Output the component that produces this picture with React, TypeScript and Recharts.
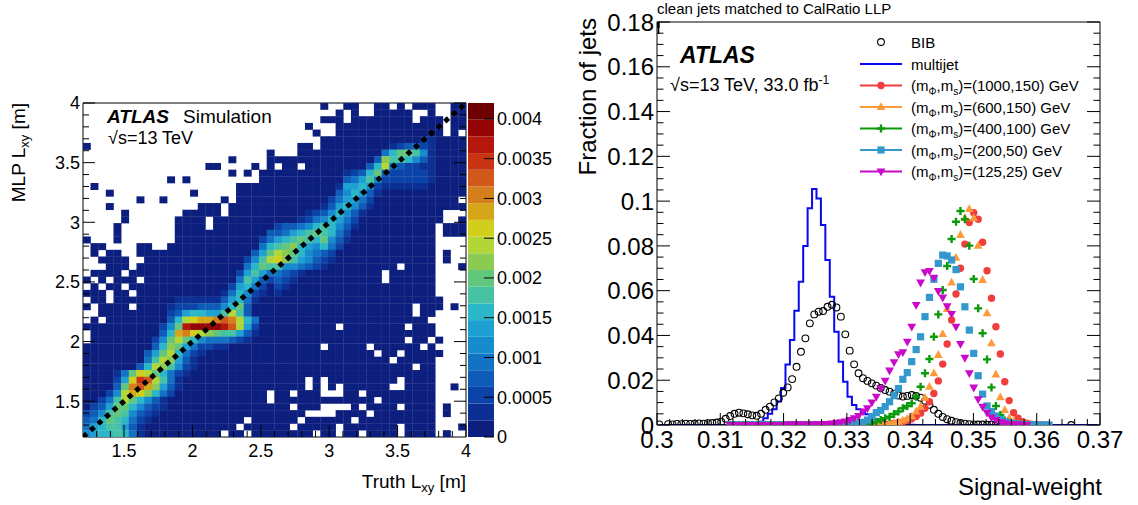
import React from "react";
import {
  ScatterChart,
  Scatter,
  ComposedChart,
  Line,
  XAxis,
  YAxis,
  ReferenceArea,
} from "recharts";

const font = "'Liberation Sans', Arial, Helvetica, sans-serif";

// ---------- left panel: MLP Lxy vs truth Lxy, 50 x 50 bins from 1.2 to 4 m ----------
const lxyMin = 1.2;
const lxyMax = 4;
const lxyBins = 50;
const lxyMajor = [1.5, 2, 2.5, 3, 3.5, 4];
const lxyTicks = [
  1.3, 1.4, 1.5, 1.6, 1.7, 1.8, 1.9, 2, 2.1, 2.2, 2.3, 2.4, 2.5, 2.6, 2.7, 2.8,
  2.9, 3, 3.1, 3.2, 3.3, 3.4, 3.5, 3.6, 3.7, 3.8, 3.9, 4,
];
const zMax = 0.0042;
const zTicks = [0, 0.0005, 0.001, 0.0015, 0.002, 0.0025, 0.003, 0.0035, 0.004];
const palette = [
  "#0d1f7e", "#0c2f93", "#0b43a8", "#0e5cb8", "#1273c4", "#168bce", "#1ea0d2",
  "#2cb7c9", "#47c3a4", "#63c67d", "#8bcb52", "#b2d636", "#d2cf1c", "#d6a61a",
  "#d57f1c", "#d2581a", "#c93514", "#b5170d", "#950505", "#6e0000",
];
// rows from MLP = 4 m (top) down to 1.2 m; '.' = empty bin, 0-9 / a-j = colour band
const lxyRows = [
  "..... ..... ..... ..... ..... ..... .0..0 0..00 .0.00 0..00",
  "..... ..... ..... ..... ..... ..... ...0. 0..00 000.. 0..00",
  "..... ..... ..... ..... ..... ..... .000. 00000 000.0 00.00",
  "..... ..... ..... ..... ..... ....0 ...00 00000 00000 00.00",
  "..... ..... ..... ..... ..... ..... 0..00 00000 00000 00.0.",
  "..... ..... ..... ..... ..... ..... .0000 00000 00001 10000",
  "0.... ..... ..... ..... ..... ...00 .0000 00000 12332 10000",
  "..... ..... ..... ..... ....0 ...00 00000 00004 79985 10000",
  "..... ..... ..... ....0 ....0 00000 00000 0003a 88753 10000",
  "..... ..... ..... .00.. ..0.0 .00.0 00000 0037b 43221 10000",
  "..... ..... ..... ....0 .0.00 00000 00001 23793 22222 10000",
  "..... ..... .0.0. ..... ...00 00000 00003 46852 22222 10000",
  ".0... ..... ..... ..... 00000 00000 00016 67521 11111 00000",
  "...0. ..... ....0 ..... 00000 00000 00035 76310 00000 00000",
  "..... ..0.. 0.... ...0. 00000 00000 00246 64200 00000 0000.",
  "...0. ..... ..... 000.0 00000 00000 01367 53100 00000 00000",
  "..... 0.... ...00 000.0 00000 00001 23575 31000 00000 00...",
  "..... 0.... ..000 0.000 00000 00012 45764 20000 00000 00..0",
  "....0 ..... ..000 0.000 00000 23345 78753 10000 00000 0.000",
  "....0 ..... ..000 00000 00003 34678 98742 00000 00000 0.000",
  "0...0 ..... ..000 00000 00024 67898 79531 00000 00000 0....",
  ".00.. ..00. .0000 00000 00047 89a76 57420 00000 00000 0....",
  ".0.00 ..000 00000 00000 00369 ba975 43200 00000 00000 0.0..",
  "..000 0..00 00000 00000 0258b ca865 32100 00000 00000 0.0..",
  "...00 0.000 00000 00000 04798 85543 21000 00000 0.000 0...0",
  ".0000 .0000 00000 00000 26864 43210 00000 0000. 00000 0....",
  "0.0.0 00.00 00000 00000 48632 32100 00000 0000. 00000 0....",
  ".0.00 .0000 00000 00002 67420 21000 00000 00000 00000 0....",
  "000.0 0.000 00000 00014 75210 10000 00000 00000 00000 0....",
  ".00.0 00000 00111 11136 74100 00000 00000 00000 00000 00...",
  "0.000 0.000 01222 33357 93000 00000 00000 00000 000.0 00.0.",
  "..000 00000 02367 7668b 83000 00000 00000 00000 000.0 0....",
  ".0.00 00000 037bc ddefe b7400 00000 00000 00000 00000 .....",
  "00000 00000 259hi iiihf b6200 00000 000.0 00000 00.00 0....",
  ".0000 00000 37dec ba988 63100 00000 00000 00000 00000 0....",
  ".0000 00002 59b97 54443 21000 00000 00000 00000 00.00 .0...",
  "00000 00003 7a964 22110 00000 00000 0.000 00.00 0000. 0....",
  "00000 00036 9b742 10000 00000 00000 00000 000.0 0.000 00...",
  "00000 00048 ba631 00000 00000 00000 00000 00000 .0000 0....",
  "00000 0037b a8521 00000 00000 00000 00000 00000 000.0 0....",
  "00001 49cb9 74210 00000 00000 00000 00000 00000 00000 0....",
  "00002 6cgfb 84100 00000 00000 0000. 0.000 00000 0.000 0....",
  "00003 9efda 63100 00000 00000 0000. 0.0.0 00000 ..000 0..0.",
  "00025 bdca7 42000 00000 0000. 00.00 0...0 0.000 00000 0....",
  "00248 b9753 10000 00000 0000. 00000 00000 000.0 00000 0....",
  "02369 97532 10000 00000 00000 00.00 0.... 0.000 0.000 0.0..",
  "23589 85321 00000 00000 00000 0000. ...00 00.00 00000 0.0..",
  "34798 74210 00000 00000 0.000 000.0 00000 .0000 00000 0....",
  "46788 63100 00000 00000 .0000 00.00 000.0 00000 0.000 0...0",
  "56778 74100 00000 000.0 0.000 00000 .00.0 0.000 0.000 0.0..",
];
// the dotted y = x guide
const lxyDiagonal = [
  { x: 1.2, y: 1.2 },
  { x: 4, y: 4 },
];

// ---------- right panel: signal-weight, 100 bins of 0.0007 from 0.3 ----------
const swMin = 0.3;
const swMax = 0.37;
const swBinWidth = 0.0007;
const swMajorX = [0.3, 0.31, 0.32, 0.33, 0.34, 0.35, 0.36, 0.37];
const swTicksX = [
  0.3, 0.302, 0.304, 0.306, 0.308, 0.31, 0.312, 0.314, 0.316, 0.318, 0.32,
  0.322, 0.324, 0.326, 0.328, 0.33, 0.332, 0.334, 0.336, 0.338, 0.34, 0.342,
  0.344, 0.346, 0.348, 0.35, 0.352, 0.354, 0.356, 0.358, 0.36, 0.362, 0.364,
  0.366, 0.368, 0.37,
];
const fracMajor = [0, 0.02, 0.04, 0.06, 0.08, 0.1, 0.12, 0.14, 0.16, 0.18];
const fracTicks = [
  0, 0.005, 0.01, 0.015, 0.02, 0.025, 0.03, 0.035, 0.04, 0.045, 0.05, 0.055,
  0.06, 0.065, 0.07, 0.075, 0.08, 0.085, 0.09, 0.095, 0.1, 0.105, 0.11, 0.115,
  0.12, 0.125, 0.13, 0.135, 0.14, 0.145, 0.15, 0.155, 0.16, 0.165, 0.17, 0.175,
  0.18,
];

// BIB, bins 0..93 (null = no marker)
const bibFirst = 0;
const bib = [
  0.0003, null, 0.0004, 0.0003, 0.0005, 0.0004, 0.0006, 0.0005, 0.0006, 0.0007,
  0.0006, 0.0008, 0.0009, 0.0011, 0.0015, 0.0028, 0.004, 0.005, 0.0055, 0.0052,
  0.0048, 0.0043, 0.0041, 0.005, 0.0068, 0.0082, 0.0101, 0.0119, 0.0144, 0.0168,
  0.0205, 0.026, 0.0327, 0.0387, 0.0454, 0.0494, 0.0506, 0.0509, 0.0528, 0.0537,
  0.0525, 0.0484, 0.0405, 0.0332, 0.0271, 0.0231, 0.0209, 0.0197, 0.0186, 0.0176,
  0.0165, 0.0156, 0.0149, 0.014, 0.0132, 0.0127, 0.013, 0.0134, 0.013, 0.0122,
  0.0108, 0.009, 0.0068, 0.005, 0.0036, 0.0026, 0.0019, 0.0013, 0.0009, 0.0006,
  0.0004, 0.0003, 0.0002, 0.0002, 0.0001, 0.0001, 0.0001, 0.0001, 0.0001, 0.0001,
  0.0001, null, null, null, null, null, null, null, null, null, null, null, null, 0,
];

// multijet histogram, non-empty bins 22..57 (zero elsewhere)
const mjFirst = 22;
const multijet = [
  0.0005, 0.0015, 0.003, 0.005, 0.007, 0.0105, 0.0165, 0.027, 0.038, 0.051,
  0.064, 0.08, 0.0968, 0.1054, 0.1012, 0.0893, 0.0737, 0.0573, 0.0417, 0.0283,
  0.0193, 0.0126, 0.0089, 0.007, 0.0058, 0.0048, 0.0036, 0.0026, 0.0018, 0.0012,
  0.0008, 0.0005, 0.0003, 0.0002, 0.0001, 0.0001,
];

// signal samples, starting at bin 16
const sigFirst = 16;
const sig1000 = [
  0, 0, 0, 0, 0, 0, 0, 0, 0, 0, 0, 0, 0, 0, 0, 0, 0, 0, 0, 0, 0, 0, 0, 0, 0, 0, 0, 0, 0, 0,
  0.0001, 0.0001, 0.0002, 0.0002, 0.0003, 0.0004, 0.0005, 0.0007, 0.001, 0.0014,
  0.002, 0.0028, 0.0038, 0.0053, 0.0075, 0.0104, 0.0141, 0.0197, 0.0272, 0.0362,
  0.0469, 0.0585, 0.07, 0.0808, 0.0904, 0.0948, 0.0919, 0.0816, 0.0689, 0.0566,
  0.0439, 0.0317, 0.0193, 0.0109, 0.0055, 0.003, 0.0015, 0.0008, 0.0004, 0.0002,
  0.0001, 0,
];
const sig600 = [
  0, 0, 0, 0, 0, 0, 0, 0, 0, 0, 0, 0, 0, 0, 0, 0, 0, 0, 0, 0, 0, 0, 0, 0, 0, 0, 0, 0, 0, 0,
  0.0001, 0.0001, 0.0002, 0.0003, 0.0004, 0.0005, 0.0007, 0.001, 0.0014, 0.002,
  0.0028, 0.0039, 0.006, 0.0082, 0.0122, 0.0171, 0.0231, 0.0313, 0.0406, 0.0518,
  0.0636, 0.0747, 0.0849, 0.0925, 0.0965, 0.0923, 0.0801, 0.0648, 0.0499, 0.0365,
  0.0226, 0.0124, 0.0067, 0.003, 0.0015, 0.0007, 0.0003, 0.0001, 0,
];
const sig400 = [
  0, 0, 0, 0, 0, 0, 0, 0, 0, 0, 0, 0, 0, 0, 0, 0, 0, 0, 0, 0, 0, 0, 0, 0, 0, 0, 0, 0, 0, 0, 0,
  0.0004, 0.0008, 0.0015, 0.0022, 0.003, 0.0037, 0.0049, 0.006, 0.0075, 0.0085,
  0.0097, 0.0126, 0.0171, 0.0231, 0.0295, 0.0394, 0.0494, 0.0603, 0.071, 0.0831,
  0.0908, 0.0956, 0.0919, 0.0801, 0.0652, 0.0521, 0.041, 0.0293, 0.0168, 0.0085,
  0.0045, 0.002, 0.001, 0.0005, 0.0002, 0.0001, 0,
];
const sig200 = [
  0, 0, 0, 0, 0, 0, 0, 0, 0, 0, 0, 0, 0, 0, 0, 0, 0, 0, 0, 0, 0, 0, 0,
  0.0002, 0.0003, 0.0004, 0.0005, 0.0006, 0.0008, 0.001, 0.0012, 0.0022, 0.0037,
  0.0055, 0.0065, 0.0082, 0.0104, 0.0131, 0.0163, 0.0204, 0.0234, 0.0283, 0.0337,
  0.0394, 0.0484, 0.057, 0.0651, 0.0722, 0.0759, 0.0755, 0.0737, 0.0694, 0.0617,
  0.0528, 0.0424, 0.032, 0.022, 0.0138, 0.0085, 0.006, 0.004, 0.0025, 0.0015,
  0.001, 0.0006, 0.0004, 0.0002, 0.0001, 0.0001, 0, 0, 0, 0,
];
const sig125 = [
  0, 0, 0, 0, 0, 0, 0, 0, 0, 0, 0, 0, 0,
  0.0002, 0.0002, 0.0002, 0.0002, 0.0002, 0.0002, 0.0002, 0.0003, 0.0004, 0.0005,
  0.0007, 0.0009, 0.0012, 0.0016, 0.0022, 0.003, 0.004, 0.006, 0.0075, 0.0101,
  0.0126, 0.0164, 0.0198, 0.0243, 0.028, 0.0316, 0.0325, 0.0372, 0.0439, 0.0536,
  0.0636, 0.0682, 0.0688, 0.0658, 0.0598, 0.0569, 0.053, 0.0496, 0.0439, 0.0362,
  0.03, 0.0231, 0.0167, 0.0115, 0.0082, 0.0055, 0.0034, 0.0022, 0.0013, 0.0008,
  0.0005, 0.0003, 0.0002, 0.0001, 0,
];

const colRed = "#f23d3d";
const colOrange = "#ff9a3c";
const colGreen = "#0a9a0a";
const colBlue = "#3399cc";
const colMagenta = "#c80ac8";
const colMultijet = "#0a0af0";

// ---------- derived tables ----------
const lxyStep = (lxyMax - lxyMin) / lxyBins;
const lxyCells = lxyRows.flatMap((row, r) => {
  const chars = row.replace(/ /g, "").padEnd(lxyBins, "0").slice(0, lxyBins);
  const out: { x: number; y: number; level: number }[] = [];
  chars.split("").forEach((ch, c) => {
    if (ch === ".") return;
    out.push({
      x: lxyMin + (c + 0.5) * lxyStep,
      y: lxyMax - (r + 0.5) * lxyStep,
      level: parseInt(ch, 36),
    });
  });
  return out;
});

const binCenter = (i: number) => swMin + (i + 0.5) * swBinWidth;
const toPoints = (first: number, values: (number | null)[]) =>
  values
    .map((v, k) => (v == null ? null : { x: binCenter(first + k), y: v }))
    .filter(Boolean) as { x: number; y: number }[];

const mjData = Array.from({ length: 100 }, (_, i) => ({
  x: binCenter(i),
  y: i >= mjFirst && i < mjFirst + multijet.length ? multijet[i - mjFirst] : 0,
}));

// ---------- ROOT-style inward ticks ----------
type Side = "bottom" | "top" | "left" | "right";
const isIn = (list: number[], v: number) => list.some((m) => Math.abs(m - v) < 1e-9);

function rootTick(side: Side, majors: number[], major: number, minor: number, fontSize = 0, gap = 0) {
  return (props: any) => {
    const { x, y, payload } = props;
    const v = payload.value;
    const big = isIn(majors, v);
    const len = big ? major : minor;
    const showLabel = fontSize > 0 && big;
    let line = null;
    let label = null;
    if (side === "bottom") {
      line = <line x1={x} y1={y} x2={x} y2={y - len} stroke="#000" />;
      if (showLabel)
        label = (
          <text x={x} y={y + gap} textAnchor="middle" fontSize={fontSize} fontFamily={font} fill="#000">
            {String(v)}
          </text>
        );
    } else if (side === "top") {
      line = <line x1={x} y1={y} x2={x} y2={y + len} stroke="#000" />;
    } else if (side === "left") {
      line = <line x1={x} y1={y} x2={x + len} y2={y} stroke="#000" />;
      if (showLabel)
        label = (
          <text x={x - gap} y={y} dy="0.36em" textAnchor="end" fontSize={fontSize} fontFamily={font} fill="#000">
            {String(v)}
          </text>
        );
    } else {
      line = <line x1={x} y1={y} x2={x - len} y2={y} stroke="#000" />;
      if (showLabel)
        label = (
          <text x={x + gap} y={y} dy="0.36em" textAnchor="start" fontSize={fontSize} fontFamily={font} fill="#000">
            {String(v)}
          </text>
        );
    }
    return (
      <g>
        {line}
        {label}
      </g>
    );
  };
}

// ---------- markers ----------
const cellW = 383 / lxyBins + 0.3;
const cellH = 334 / lxyBins + 0.3;
const HeatCell = (p: any) => {
  if (p.cx == null || p.cy == null) return <g />;
  return (
    <rect
      x={p.cx - cellW / 2}
      y={p.cy - cellH / 2}
      width={cellW}
      height={cellH}
      fill={palette[p.payload.level]}
    />
  );
};
const NoMarker = () => <g />;

const OpenCircle = (p: any) =>
  p.cx == null ? <g /> : <circle cx={p.cx} cy={p.cy} r={3.4} fill="none" stroke="#000" strokeWidth={1.1} />;
const FullCircle = (color: string) => (p: any) =>
  p.cx == null ? <g /> : <circle cx={p.cx} cy={p.cy} r={3.7} fill={color} />;
const TriUp = (color: string) => (p: any) =>
  p.cx == null ? (
    <g />
  ) : (
    <polygon points={`${p.cx},${p.cy - 4.8} ${p.cx + 4.4},${p.cy + 3} ${p.cx - 4.4},${p.cy + 3}`} fill={color} />
  );
const TriDown = (color: string) => (p: any) =>
  p.cx == null ? (
    <g />
  ) : (
    <polygon points={`${p.cx},${p.cy + 4.8} ${p.cx + 4.4},${p.cy - 3} ${p.cx - 4.4},${p.cy - 3}`} fill={color} />
  );
const Square = (color: string) => (p: any) =>
  p.cx == null ? <g /> : <rect x={p.cx - 3.6} y={p.cy - 3.6} width={7.2} height={7.2} fill={color} />;
const Cross = (color: string) => (p: any) =>
  p.cx == null ? (
    <g />
  ) : (
    <path
      d={`M${p.cx - 4},${p.cy}H${p.cx + 4}M${p.cx},${p.cy - 4}V${p.cy + 4}`}
      stroke={color}
      strokeWidth={2.4}
    />
  );

const legendRows = [
  { y: 42, label: "BIB", kind: "bib" },
  { y: 64, label: "multijet", kind: "mj" },
  { y: 85.5, mphi: "1000", ms: "150", color: colRed, marker: FullCircle(colRed) },
  { y: 107, mphi: "600", ms: "150", color: colOrange, marker: TriUp(colOrange) },
  { y: 128.5, mphi: "400", ms: "100", color: colGreen, marker: Cross(colGreen) },
  { y: 150, mphi: "200", ms: "50", color: colBlue, marker: Square(colBlue) },
  { y: 171.5, mphi: "125", ms: "25", color: colMagenta, marker: TriDown(colMagenta) },
];

export default function App() {
  return (
    <div style={{ position: "absolute", left: 0, top: 0, width: 1138, height: 505, background: "#fff" }}>
      {/* heat map */}
      <div style={{ position: "absolute", left: 0, top: 0 }}>
        <ScatterChart width={520} height={505} margin={{ top: 102, right: 53, bottom: 67, left: 82 }}>
          <XAxis
            dataKey="x"
            type="number"
            domain={[lxyMin, lxyMax]}
            allowDataOverflow
            ticks={lxyTicks}
            interval={0}
            height={1}
            tickSize={0}
            tickMargin={0}
            tickLine={false}
            axisLine={{ stroke: "#000" }}
            tick={rootTick("bottom", lxyMajor, 12, 6, 18, 20)}
          />
          <XAxis
            xAxisId="top"
            orientation="top"
            type="number"
            domain={[lxyMin, lxyMax]}
            allowDataOverflow
            ticks={lxyTicks}
            interval={0}
            height={1}
            tickSize={0}
            tickMargin={0}
            tickLine={false}
            axisLine={{ stroke: "#000" }}
            tick={rootTick("top", lxyMajor, 12, 6)}
          />
          <YAxis
            dataKey="y"
            type="number"
            domain={[lxyMin, lxyMax]}
            allowDataOverflow
            ticks={lxyTicks}
            interval={0}
            width={1}
            tickSize={0}
            tickMargin={0}
            tickLine={false}
            axisLine={{ stroke: "#000" }}
            tick={rootTick("left", lxyMajor, 12, 6, 18, 3)}
          />
          <YAxis
            yAxisId="right"
            orientation="right"
            type="number"
            domain={[lxyMin, lxyMax]}
            allowDataOverflow
            ticks={lxyTicks}
            interval={0}
            width={1}
            tickSize={0}
            tickMargin={0}
            tickLine={false}
            axisLine={{ stroke: "#000" }}
            tick={rootTick("right", lxyMajor, 12, 6)}
          />
          <Scatter data={lxyCells} shape={HeatCell} isAnimationActive={false} />
          <Scatter
            data={lxyDiagonal}
            shape={NoMarker}
            line={{ stroke: "#000", strokeWidth: 5, strokeDasharray: "5 5" }}
            isAnimationActive={false}
          />
        </ScatterChart>
      </div>

      {/* colour scale */}
      <div style={{ position: "absolute", left: 0, top: 0 }}>
        <ComposedChart
          width={600}
          height={505}
          data={[{ x: 0 }, { x: 1 }]}
          margin={{ top: 103, right: 105, bottom: 68, left: 468 }}
        >
          <XAxis dataKey="x" type="number" domain={[0, 1]} hide />
          <YAxis
            orientation="right"
            type="number"
            domain={[0, zMax]}
            allowDataOverflow
            ticks={zTicks}
            interval={0}
            width={1}
            tickSize={0}
            tickMargin={0}
            tickLine={false}
            axisLine={false}
            tick={rootTick("right", zTicks, 10, 10, 18, 3)}
          />
          {palette.map((c, k) => (
            <ReferenceArea
              key={k}
              y1={(k * zMax) / palette.length}
              y2={((k + 1) * zMax) / palette.length}
              fill={c}
              fillOpacity={1}
              stroke="none"
            />
          ))}
        </ComposedChart>
      </div>

      {/* signal-weight distributions */}
      <div style={{ position: "absolute", left: 0, top: 0 }}>
        <ComposedChart width={1138} height={505} data={mjData} margin={{ top: 21, right: 37, bottom: 79, left: 656 }}>
          <XAxis
            dataKey="x"
            type="number"
            domain={[swMin, swMax]}
            allowDataOverflow
            ticks={swTicksX}
            interval={0}
            height={1}
            tickSize={0}
            tickMargin={0}
            tickLine={false}
            axisLine={{ stroke: "#000" }}
            tick={rootTick("bottom", swMajorX, 12, 6, 24, 23)}
          />
          <XAxis
            xAxisId="top"
            orientation="top"
            type="number"
            domain={[swMin, swMax]}
            allowDataOverflow
            ticks={swTicksX}
            interval={0}
            height={1}
            tickSize={0}
            tickMargin={0}
            tickLine={false}
            axisLine={{ stroke: "#000" }}
            tick={rootTick("top", swMajorX, 12, 6)}
          />
          <YAxis
            dataKey="y"
            type="number"
            domain={[0, 0.18]}
            allowDataOverflow
            ticks={fracTicks}
            interval={0}
            width={1}
            tickSize={0}
            tickMargin={0}
            tickLine={false}
            axisLine={{ stroke: "#000" }}
            tick={rootTick("left", fracMajor, 13, 6.5, 24, 3)}
          />
          <YAxis
            yAxisId="right"
            orientation="right"
            type="number"
            domain={[0, 0.18]}
            allowDataOverflow
            ticks={fracTicks}
            interval={0}
            width={1}
            tickSize={0}
            tickMargin={0}
            tickLine={false}
            axisLine={{ stroke: "#000" }}
            tick={rootTick("right", fracMajor, 13, 6.5)}
          />
          <Scatter data={toPoints(bibFirst, bib)} shape={OpenCircle} isAnimationActive={false} />
          <Line
            dataKey="y"
            type="step"
            stroke={colMultijet}
            strokeWidth={2}
            dot={false}
            isAnimationActive={false}
          />
          <Scatter data={toPoints(sigFirst, sig1000)} shape={FullCircle(colRed)} isAnimationActive={false} />
          <Scatter data={toPoints(sigFirst, sig600)} shape={TriUp(colOrange)} isAnimationActive={false} />
          <Scatter data={toPoints(sigFirst, sig400)} shape={Cross(colGreen)} isAnimationActive={false} />
          <Scatter data={toPoints(sigFirst, sig200)} shape={Square(colBlue)} isAnimationActive={false} />
          <Scatter data={toPoints(sigFirst, sig125)} shape={TriDown(colMagenta)} isAnimationActive={false} />
        </ComposedChart>
      </div>

      {/* labels and legend */}
      <svg
        width={1138}
        height={505}
        style={{ position: "absolute", left: 0, top: 0, pointerEvents: "none" }}
        fontFamily={font}
      >
        {/* left panel */}
        <text x={107} y={123} fontSize={19} fontWeight="bold" fontStyle="italic">
          ATLAS
        </text>
        <text x={183} y={123} fontSize={19}>
          Simulation
        </text>
        <text x={108} y={144} fontSize={18}>
          √s=13 TeV
        </text>
        <text x={466} y={488} fontSize={19} textAnchor="end">
          Truth L<tspan dy={4} fontSize={13}>xy</tspan>
          <tspan dy={-4}> [m]</tspan>
        </text>
        <text transform="rotate(-90)" x={-103} y={25} fontSize={19} textAnchor="end">
          MLP L<tspan dy={4} fontSize={13}>xy</tspan>
          <tspan dy={-4}> [m]</tspan>
        </text>

        {/* right panel */}
        <text x={657} y={14} fontSize={15}>
          clean jets matched to CalRatio LLP
        </text>
        <text x={680} y={63} fontSize={23} fontWeight="bold" fontStyle="italic">
          ATLAS
        </text>
        <text x={670} y={91} fontSize={18}>
          √s=13 TeV, 33.0 fb<tspan dy={-7} fontSize={12}>-1</tspan>
        </text>
        <text transform="rotate(-90)" x={-18} y={596} fontSize={24} textAnchor="end">
          Fraction of jets
        </text>
        <text x={1102} y={495} fontSize={24} textAnchor="end">
          Signal-weight
        </text>

        {legendRows.map((row: any, i) => (
          <g key={i}>
            {row.kind === "bib" && <OpenCircle cx={881} cy={row.y} />}
            {row.kind === "mj" && <line x1={860} x2={902} y1={row.y} y2={row.y} stroke={colMultijet} strokeWidth={2} />}
            {row.color && (
              <>
                <line x1={860} x2={902} y1={row.y} y2={row.y} stroke={row.color} strokeWidth={2} />
                {row.marker({ cx: 881, cy: row.y })}
              </>
            )}
            {row.label ? (
              <text x={911} y={row.y + 5.5} fontSize={15}>
                {row.label}
              </text>
            ) : (
              <text x={911} y={row.y + 5.5} fontSize={15}>
                (m<tspan dy={4} fontSize={10}>Φ</tspan>
                <tspan dy={-4}>,m</tspan>
                <tspan dy={4} fontSize={10}>s</tspan>
                <tspan dy={-4}>
                  )=({row.mphi},{row.ms}) GeV
                </tspan>
              </text>
            )}
          </g>
        ))}
      </svg>
    </div>
  );
}
